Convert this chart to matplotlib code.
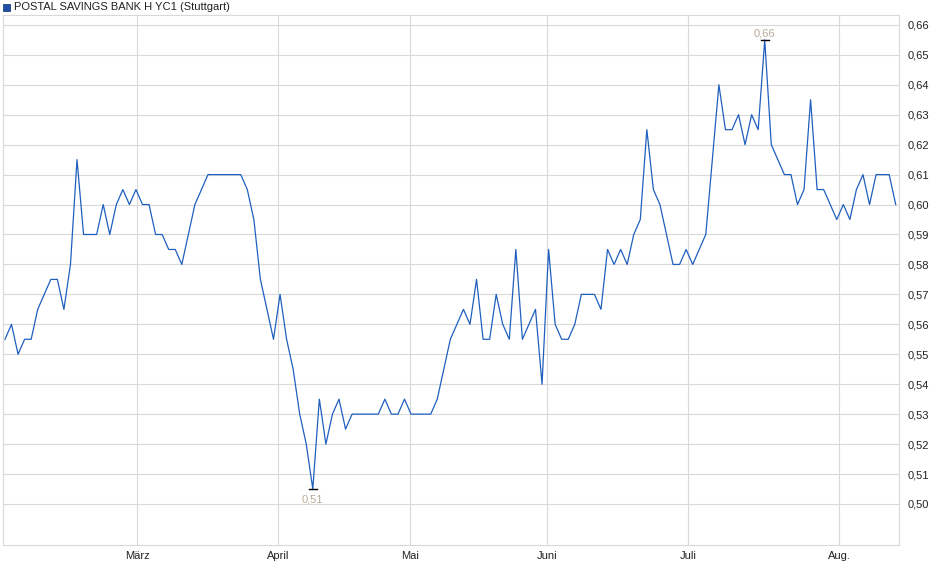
import matplotlib
matplotlib.use("Agg")
import matplotlib.pyplot as plt
from matplotlib.patches import Rectangle
import numpy as np

# daily closing prices
prices = [
    0.555, 0.56, 0.55, 0.555, 0.555, 0.565, 0.57, 0.575, 0.575, 0.565,
    0.58, 0.615, 0.59, 0.59, 0.59, 0.60, 0.59, 0.60, 0.605, 0.60,
    0.605, 0.60, 0.60, 0.59, 0.59, 0.585, 0.585, 0.58, 0.59, 0.60,
    0.605, 0.61, 0.61, 0.61, 0.61, 0.61, 0.61, 0.605, 0.595, 0.575,
    0.565, 0.555, 0.57, 0.555, 0.545, 0.53, 0.52, 0.505, 0.535, 0.52,
    0.53, 0.535, 0.525, 0.53, 0.53, 0.53, 0.53, 0.53, 0.535, 0.53,
    0.53, 0.535, 0.53, 0.53, 0.53, 0.53, 0.535, 0.545, 0.555, 0.56,
    0.565, 0.56, 0.575, 0.555, 0.555, 0.57, 0.56, 0.555, 0.585, 0.555,
    0.56, 0.565, 0.54, 0.585, 0.56, 0.555, 0.555, 0.56, 0.57, 0.57,
    0.57, 0.565, 0.585, 0.58, 0.585, 0.58, 0.59, 0.595, 0.625, 0.605,
    0.60, 0.59, 0.58, 0.58, 0.585, 0.58, 0.585, 0.59, 0.615, 0.64,
    0.625, 0.625, 0.63, 0.62, 0.63, 0.625, 0.655, 0.62, 0.615, 0.61,
    0.61, 0.60, 0.605, 0.635, 0.605, 0.605, 0.60, 0.595, 0.60, 0.595,
    0.605, 0.61, 0.60, 0.61, 0.61, 0.61, 0.60,
]
month_labels = ["März", "April", "Mai", "Juni", "Juli", "Aug."]
month_pos = [20.2, 41.7, 61.8, 82.8, 104.3, 127.4]
y_ticks = [0.50, 0.51, 0.52, 0.53, 0.54, 0.55, 0.56, 0.57, 0.58,
           0.59, 0.60, 0.61, 0.62, 0.63, 0.64, 0.65, 0.66]
title = "POSTAL SAVINGS BANK H YC1 (Stuttgart)"

plt.rcParams["font.family"] = ["Liberation Sans", "DejaVu Sans"]
LINE = "#1f5fbf"
GRID = "#d9d9d9"
ANNO = "#b8aa9a"

fig = plt.figure(figsize=(9.4, 5.79), dpi=100)
ax = fig.add_axes([3 / 940, 34 / 579, 896 / 940, 530 / 579])

x = np.arange(len(prices))
ax.plot(x, prices, color=LINE, lw=0.9)

ax.set_xlim(-0.3, len(prices) - 1 + 0.5)
ax.set_ylim(0.4863, 0.6633)
ax.set_xticks(month_pos)
ax.set_xticklabels(month_labels)
ax.set_yticks(y_ticks)
ax.set_yticklabels([f"{v:.2f}".replace(".", ",") for v in y_ticks])
ax.yaxis.tick_right()
ax.tick_params(axis="both", length=0, labelsize=8, colors="#222222")
ax.tick_params(axis="y", pad=6)
ax.tick_params(axis="x", pad=4)
ax.grid(True, color=GRID, lw=0.8)
for s in ax.spines.values():
    s.set_color(GRID)

# min / max markers
imin = int(np.argmin(prices))
imax = int(np.argmax(prices))
ax.plot([imin - 0.6, imin + 0.6], [prices[imin]] * 2, color="black", lw=1)
ax.plot([imax - 0.6, imax + 0.6], [prices[imax]] * 2, color="black", lw=1)
ax.annotate(f"{round(prices[imin], 2):.2f}".replace(".", ","), (imin, prices[imin]),
            xytext=(0, -4), textcoords="offset points", ha="center", va="top",
            fontsize=8, color=ANNO)
ax.annotate(f"{round(prices[imax], 2):.2f}".replace(".", ","), (imax, prices[imax]),
            xytext=(0, 1), textcoords="offset points", ha="center", va="bottom",
            fontsize=8, color=ANNO)

fig.patches.append(Rectangle((3 / 940, 1 - 11 / 579), 7 / 940, 7 / 579,
                             transform=fig.transFigure, facecolor="#1f4fa8",
                             edgecolor="#0a2a6a", lw=0.5))
fig.text(14 / 940, 1 - 7 / 579, title, fontsize=8, va="center", ha="left",
         color="#222222")

fig.savefig("out.png", dpi=100)
